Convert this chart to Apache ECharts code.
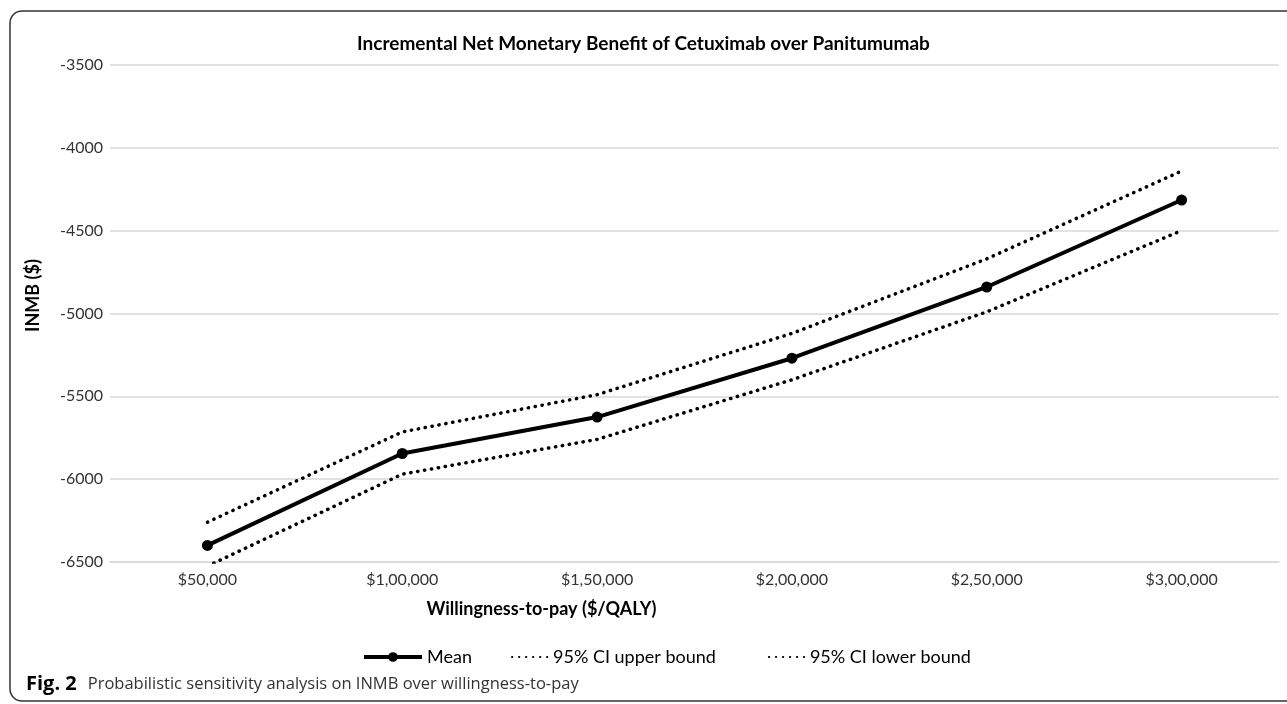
<!DOCTYPE html>
<html>
<head>
<meta charset="utf-8">
<script src="https://cdn.jsdelivr.net/npm/echarts@6/dist/echarts.min.js"></script>
<style>
html,body{margin:0;padding:0;background:#fff;}
#chart{width:1287px;height:704px;}
</style>
</head>
<body>
<div id="chart"></div>
<script>
const categories = ['$50,000', '$1,00,000', '$1,50,000', '$2,00,000', '$2,50,000', '$3,00,000'];
const meanValues = [-6400, -5845, -5625, -5270, -4840, -4315];
const upperValues = [-6260, -5715, -5490, -5120, -4670, -4140];
const lowerValues = [-6525, -5970, -5760, -5400, -4990, -4500];
const yTicks = { min: -6500, max: -3500, interval: 500 };

const FONT = 'Lato';
const CAPFONT = 'Open Sans';
const chart = echarts.init(document.getElementById('chart'), null, { renderer: 'canvas' });
const dotted = { color: '#000', width: 3.5, type: [0.3, 6.7], cap: 'round' };

chart.setOption({
  backgroundColor: '#fff',
  animation: false,
  textStyle: { fontFamily: FONT },
  title: {
    text: 'Incremental Net Monetary Benefit of Cetuximab over Panitumumab',
    left: 'center', top: 29,
    textStyle: { fontFamily: FONT, fontSize: 19, fontWeight: 'bold', color: '#000' }
  },
  grid: { left: 110, right: 8, top: 65, bottom: 142 },
  legend: [
    {
      top: 643, left: 357,
      itemWidth: 58, itemHeight: 12,
      textStyle: { fontFamily: FONT, fontSize: 18, color: '#000' },
      data: [{ name: 'Mean', lineStyle: { width: 4 } }]
    },
    {
      top: 643, left: 506,
      itemWidth: 36, itemHeight: 12, itemGap: 52,
      textStyle: { fontFamily: FONT, fontSize: 18, color: '#000' },
      data: [
        { name: '95% CI upper bound', itemStyle: { opacity: 0 } },
        { name: '95% CI lower bound', itemStyle: { opacity: 0 } }
      ]
    }
  ],
  xAxis: {
    type: 'category',
    data: categories,
    boundaryGap: true,
    name: 'Willingness-to-pay ($/QALY)',
    nameLocation: 'middle', nameGap: 38,
    nameTextStyle: { fontFamily: FONT, fontSize: 18, fontWeight: 'bold', color: '#000', padding: [0, 306, 0, 0] },
    axisLine: { show: true, lineStyle: { color: '#d9d9d9', width: 1.5 } },
    axisTick: { show: false },
    axisLabel: { fontFamily: FONT, fontSize: 16, color: '#333', margin: 10 }
  },
  yAxis: {
    type: 'value',
    min: yTicks.min, max: yTicks.max, interval: yTicks.interval,
    name: 'INMB ($)',
    nameLocation: 'middle', nameGap: 68, nameRotate: 90,
    nameTextStyle: { fontFamily: FONT, fontSize: 18, fontWeight: 'bold', color: '#000', padding: [0, 0, 0, 36] },
    axisLine: { show: false },
    axisTick: { show: false },
    axisLabel: { fontFamily: FONT, fontSize: 16, color: '#333', margin: 7, formatter: v => String(v) },
    splitLine: { lineStyle: { color: '#d9d9d9', width: 1.5 } }
  },
  series: [
    {
      name: 'Mean', type: 'line', data: meanValues,
      symbol: 'circle', symbolSize: 11, showSymbol: true,
      itemStyle: { color: '#000' },
      lineStyle: { color: '#000', width: 4 },
      clip: true, z: 3
    },
    {
      name: '95% CI upper bound', type: 'line', data: upperValues,
      symbol: 'none', itemStyle: { color: '#000' },
      lineStyle: dotted, clip: true
    },
    {
      name: '95% CI lower bound', type: 'line', data: lowerValues,
      symbol: 'none', itemStyle: { color: '#000' },
      lineStyle: dotted, clip: true
    }
  ],
  graphic: [
    {
      type: 'rect', silent: true,
      shape: { x: 10, y: 11, width: 1320, height: 690, r: 12 },
      style: { fill: 'none', stroke: '#333', lineWidth: 1.5 }
    },
    {
      type: 'text', left: 26, top: 674,
      style: {
        text: '{b|Fig. 2}{t|Probabilistic sensitivity analysis on INMB over willingness-to-pay}',
        fontFamily: CAPFONT, fontSize: 16.5, fill: '#333',
        rich: {
          b: { fontFamily: CAPFONT, fontSize: 20, fontWeight: 'bold', fill: '#000', padding: [0, 11, 0, 0] },
          t: { fontFamily: CAPFONT, fontSize: 16.5, fill: '#333' }
        }
      }
    }
  ]
});
</script>
</body>
</html>
